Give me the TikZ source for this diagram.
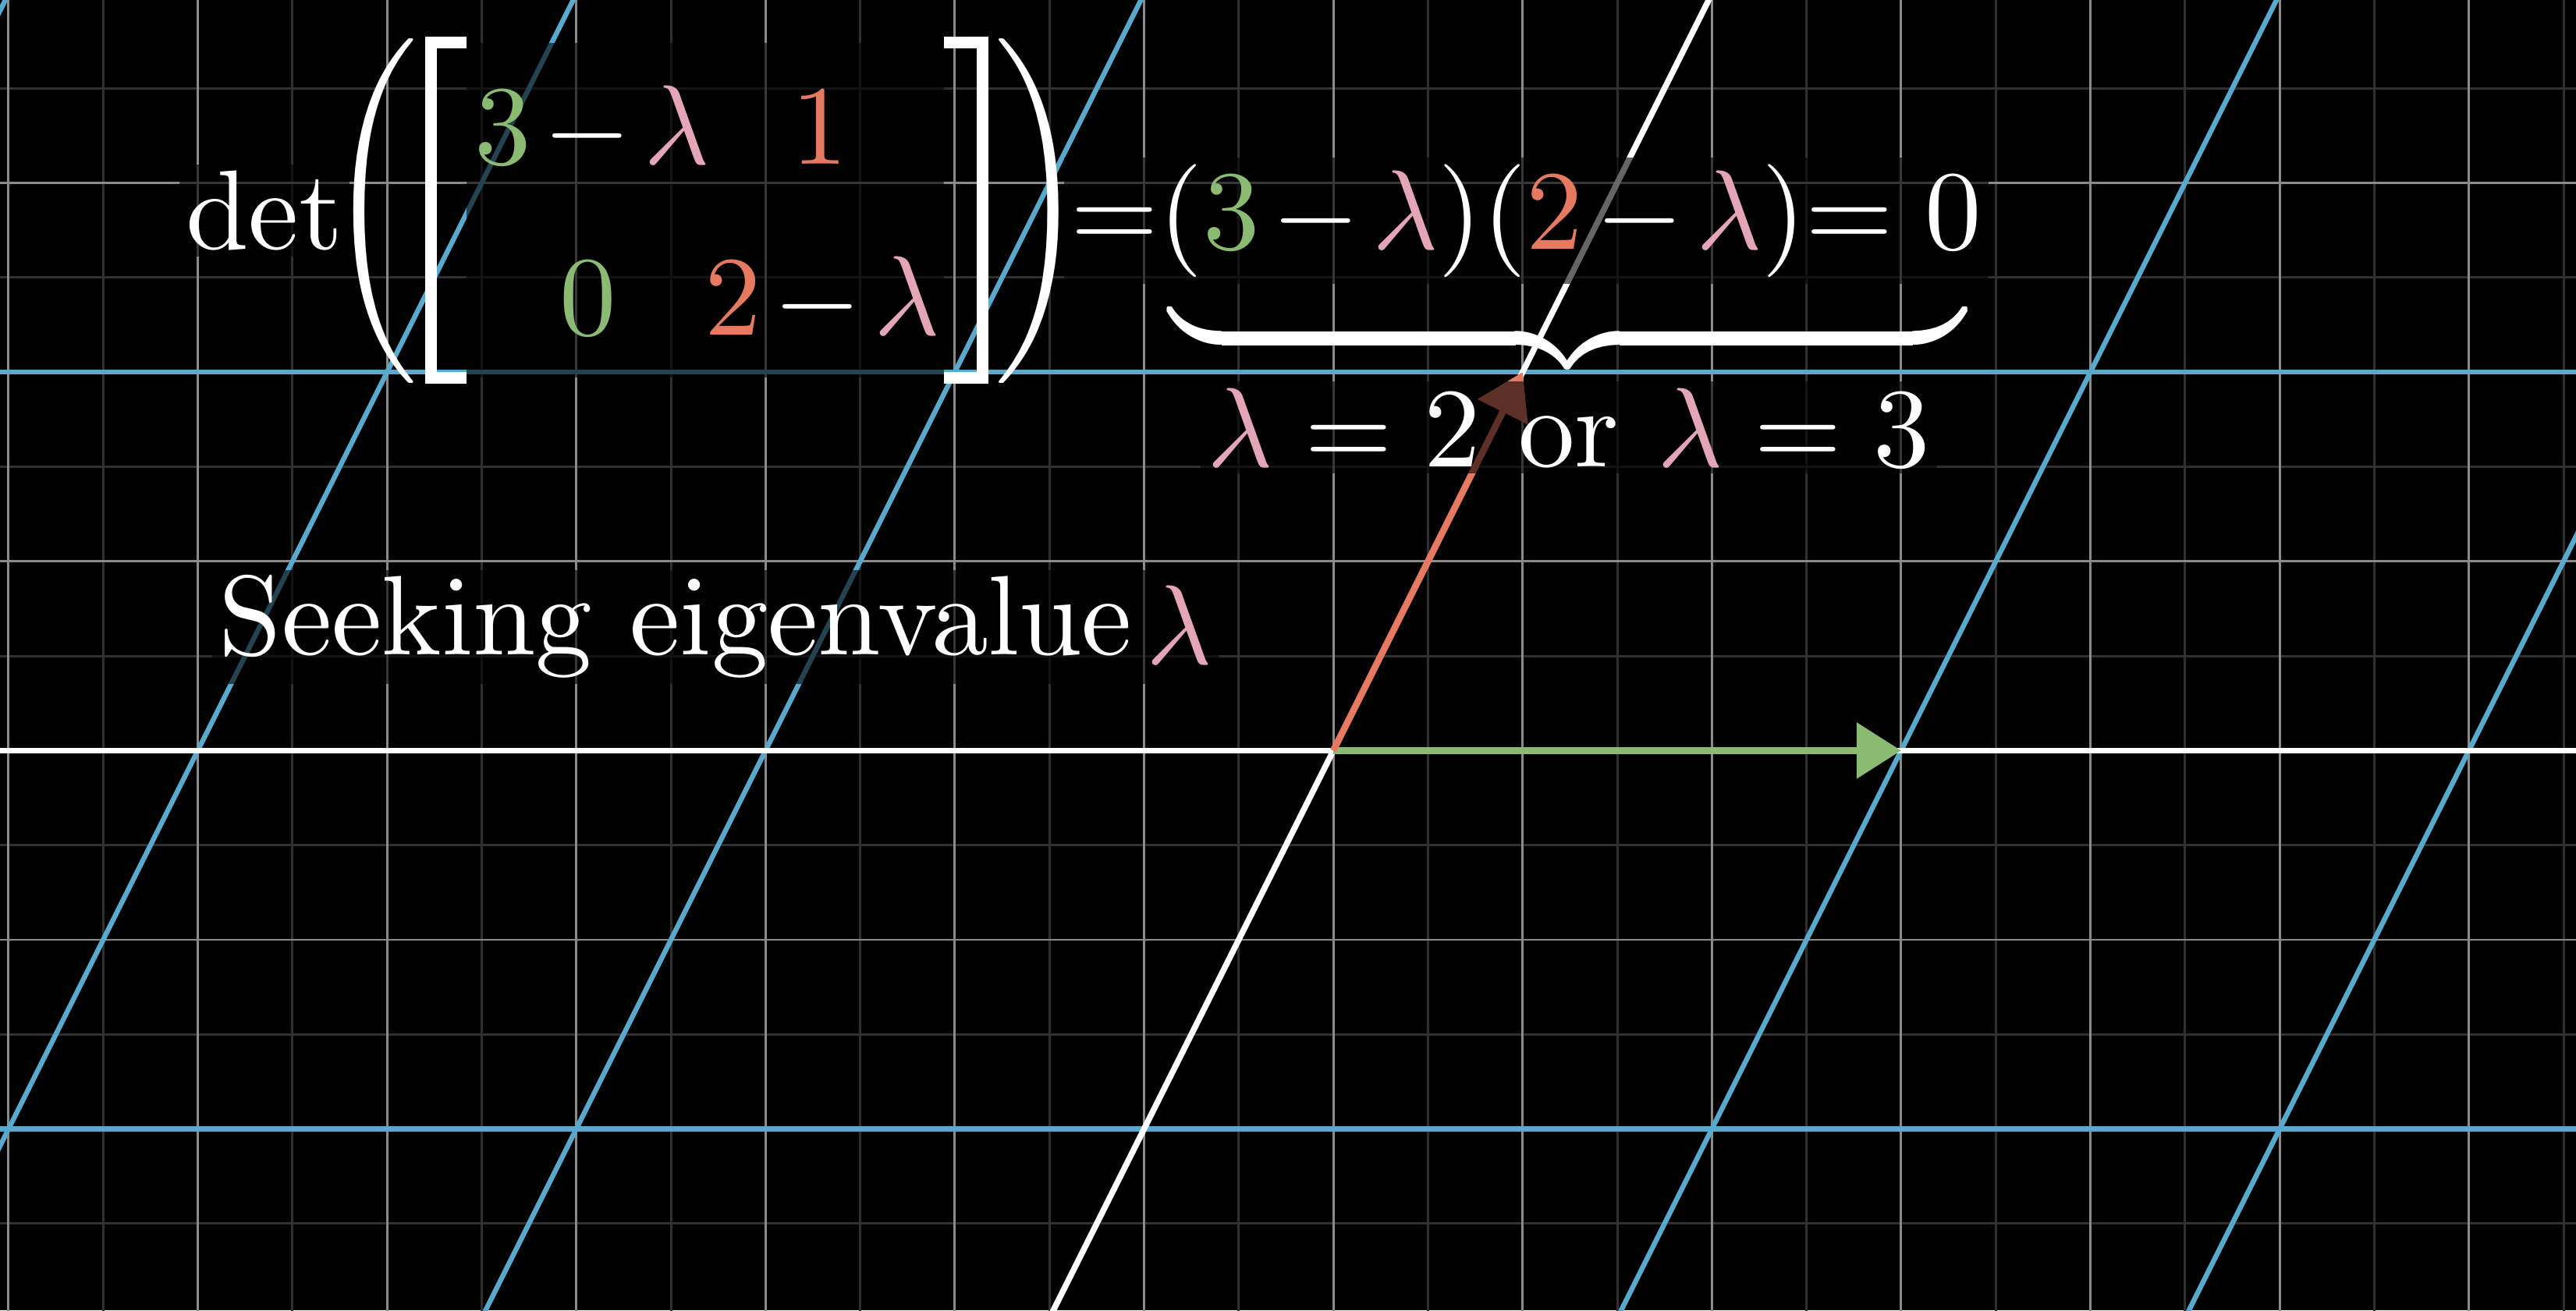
\RequirePackage{fix-cm}
\documentclass[tikz,border=0pt]{standalone}
\usepackage{amsmath}
\usetikzlibrary{arrows.meta}
\DeclareFontShape{OT1}{cmr}{m}{n}{<->cmr10}{}
\DeclareFontShape{OML}{cmm}{m}{it}{<->cmmi10}{}
\DeclareFontShape{OMS}{cmsy}{m}{n}{<->cmsy10}{}
\definecolor{gridmaj}{HTML}{8A8A8A}
\definecolor{gridmin}{HTML}{303030}
\definecolor{planeblue}{HTML}{58A9CE}
\definecolor{vgreen}{HTML}{8BBA72}
\definecolor{vred}{HTML}{E67A60}
\definecolor{lampink}{HTML}{E4A6B7}
\newcommand{\mi}{\mskip2mu{-}\mskip2mu}
\newcommand{\lam}{\textcolor{lampink}{\lambda}}
\begin{document}
\begin{tikzpicture}[every node/.style={font=\fontencoding{OT1}\fontfamily{cmr}\fontsize{17}{20}\selectfont,text=white},
  lbl/.style={fill=black,fill opacity=.6,text opacity=1,inner sep=1pt},
  bl/.style={planeblue,line width=.75pt},ax/.style={white,line width=.9pt},
  vec/.style={line width=1pt,-{Triangle[length=2.35mm,width=2.9mm]}},
  brk/.style={white,line width=1.75pt}]
\fill[black] (-7.045,-2.958) rectangle (6.566,3.967);
\useasboundingbox (-7.045,-2.958) rectangle (6.566,3.967);
% plane
\begin{scope}
\clip (-7.045,-2.958) rectangle (6.566,3.967);
\draw[gridmin,line width=.35pt,step=.5] (-7.5,-3.5) grid (7,4.5);
\draw[gridmaj,line width=.35pt,step=1] (-8,-3) grid (7,4);
\foreach \c in {-3,-2,-1,1,2} \draw[bl] (3*\c-2,-4)--(3*\c+2.5,5);
\foreach \y in {-2,2} \draw[bl] (-8,\y)--(8,\y);
\draw[ax] (-8,0)--(8,0); \draw[ax] (-2,-4)--(2.5,5);
\end{scope}
% basis vectors
\coordinate (O) at (0,0); \coordinate (ihat) at (3,0); \coordinate (jhat) at (1,2);
\draw[vec,vgreen] (O)--(ihat); \draw[vec,vred] (O)--(jhat);
% determinant
\node[lbl,anchor=base west] (det) at (-6.104,2.648){det};
\node[inner sep=0] (lpar) at (-5.06,2.852){$\left(\vcenter{\hbox{\rule{0pt}{1.75cm}}}\right.$};
\node[inner sep=0] (rpar) at (-1.57,2.852){$\left.\vcenter{\hbox{\rule{0pt}{1.75cm}}}\right)$};
\fill[black,opacity=.6] (-4.58,1.97) rectangle (-2.057,3.741);
\draw[brk] (-4.58,3.741)--(-4.769,3.741)--(-4.769,1.970)--(-4.58,1.970);
\draw[brk] (-2.057,3.741)--(-1.855,3.741)--(-1.855,1.970)--(-2.057,1.970);
\node[anchor=base] (a11) at (-3.916,3.098){$\textcolor{vgreen}{3}\mi\lam$};
\node[anchor=base] (a12) at (-2.712,3.098){$\textcolor{vred}{1}$};
\node[anchor=base] (a21) at (-3.936,2.195){$\textcolor{vgreen}{0}$};
\node[anchor=base] (a22) at (-2.700,2.195){$\textcolor{vred}{2}\mi\lam$};
\node[lbl,anchor=base west] (eq) at (-1.428,2.652){${=}(\textcolor{vgreen}{3}\mi\lam)(\textcolor{vred}{2}\mi\lam){=}\;0$};
\node[inner sep=0,anchor=north] (brace) at (1.237,2.328){$\underbrace{\hspace{4.2cm}}$};
\node[lbl,anchor=base] (sol) at (1.245,1.502){$\lam = 2$ or $\lam = 3$};
\node[lbl,anchor=base west] (seek) at (-5.93,0.505){Seeking eigenvalue\kern2pt\raisebox{-1.4pt}{$\lam$}};
\end{tikzpicture}
\end{document}
